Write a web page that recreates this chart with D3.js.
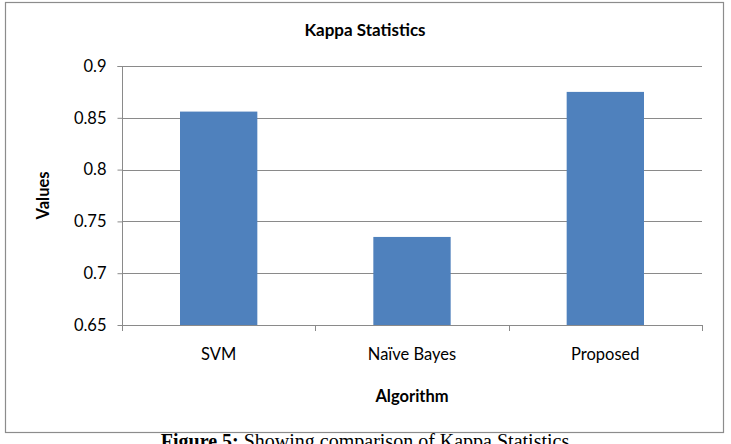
<!DOCTYPE html>
<html><head><meta charset="utf-8">
<script src="https://cdn.jsdelivr.net/npm/d3@7"></script>
<style>body{margin:0;background:#fff;}svg{display:block;}</style>
</head><body>
<svg id="c" width="731" height="444"></svg>
<script>
const categories = ["SVM", "Naïve Bayes", "Proposed"];
const values = [0.856, 0.735, 0.875];
const yTicks = [0.65, 0.7, 0.75, 0.8, 0.85, 0.9];
const title = "Kappa Statistics";
const xTitle = "Algorithm";
const yTitle = "Values";

const svg = d3.select("#c");
const font = "Lato, 'Open Sans', sans-serif";
const L = 122, R = 702, T = 66, B = 325;

svg.append("rect").attr("x", 5.5).attr("y", 2.5).attr("width", 718).attr("height", 430)
  .attr("fill", "#fff").attr("stroke", "#8c8c8c").attr("stroke-width", 1.2);

const xb = d3.scaleBand().domain(categories).range([L, R]);
const y = d3.scaleLinear().domain([0.65, 0.9]).range([B, T]);

// gridlines
svg.append("g").selectAll("line").data(yTicks).join("line")
  .attr("x1", L).attr("x2", R).attr("y1", d => Math.round(y(d)) + 0.5).attr("y2", d => Math.round(y(d)) + 0.5)
  .attr("stroke", "#8a8a8a").attr("stroke-width", 1);

// bars
svg.append("g").selectAll("rect").data(values).join("rect")
  .attr("x", (d, i) => xb(categories[i]) + xb.bandwidth() / 2 - xb.bandwidth() * 0.2)
  .attr("width", xb.bandwidth() * 0.4)
  .attr("y", d => y(d)).attr("height", d => B - y(d))
  .attr("fill", "#4f81bd");

// y axis
const ya = svg.append("g").attr("transform", `translate(${L + 0.5},0)`)
  .call(d3.axisLeft(y).tickValues(yTicks).tickSize(5).tickPadding(11).tickFormat(d => String(+d.toFixed(2))));
ya.select(".domain").attr("stroke", "#8a8a8a").attr("d", `M-5,${T + 0.5}H0V${B + 0.5}`);
ya.selectAll(".tick line").attr("stroke", "#8a8a8a");
ya.selectAll("text").attr("font-family", font).attr("font-size", 16.5).attr("fill", "#000");

// x axis
const xa = svg.append("g").attr("transform", `translate(0,${B + 0.5})`)
  .call(d3.axisBottom(xb).tickSize(0).tickPadding(23));
xa.select(".domain").attr("stroke", "#8a8a8a").attr("d", `M${L},0H${R}`);
xa.selectAll("text").attr("font-family", font).attr("font-size", 16.5).attr("fill", "#000");
svg.append("g").selectAll("line").data(d3.range(categories.length + 1)).join("line")
  .attr("x1", i => Math.round(L + i * xb.bandwidth()) + 0.5).attr("x2", i => Math.round(L + i * xb.bandwidth()) + 0.5)
  .attr("y1", B).attr("y2", B + 6).attr("stroke", "#8a8a8a");

// titles
svg.append("text").attr("x", 365).attr("y", 36).attr("text-anchor", "middle")
  .attr("font-family", font).attr("font-weight", "bold").attr("font-size", 17).text(title);
svg.append("text").attr("x", (L + R) / 2).attr("y", 402).attr("text-anchor", "middle")
  .attr("font-family", font).attr("font-weight", "bold").attr("font-size", 16.5).text(xTitle);
svg.append("text").attr("transform", `translate(49,${(T + B) / 2}) rotate(-90)`).attr("text-anchor", "middle")
  .attr("font-family", font).attr("font-weight", "bold").attr("font-size", 16.5).text(yTitle);

// caption
const cap = svg.append("text").attr("x", 365).attr("y", 448).attr("text-anchor", "middle")
  .attr("font-family", "'Liberation Serif', 'Times New Roman', serif").attr("font-size", 20);
cap.append("tspan").attr("font-weight", "bold").text("Figure 5:");
cap.append("tspan").text(" Showing comparison of Kappa Statistics");
</script>
</body></html>
